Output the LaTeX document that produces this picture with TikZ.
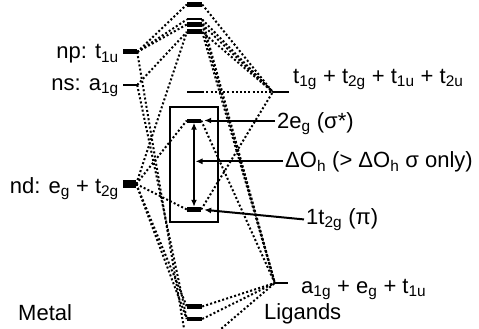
\documentclass[tikz,border=0pt]{standalone}
\usepackage{fontspec}
\setmainfont{Liberation Sans}
\usepackage{tikz}
\usetikzlibrary{arrows.meta,calc}

\begin{document}
\begin{tikzpicture}[
  x=1pt, y=-1pt,
  font=\fontsize{22}{26}\selectfont,
  lvl/.style={fill=black, inner sep=0pt, minimum width=15pt, minimum height=5pt},
  lvlthin/.style={lvl, minimum height=2pt},
  lbl/.style={inner sep=2pt},
  frame/.style={draw, line width=2pt, inner sep=0pt},
  corr/.style={line width=2pt, dash pattern=on 2pt off 2.2pt},
  arr/.style={-{Latex[length=7pt,width=6pt]}, line width=2pt, shorten >=3pt},
  dbl/.style={{Latex[length=7pt,width=6pt]}-{Latex[length=7pt,width=6pt]}, line width=2pt}
]
\useasboundingbox (0,0) rectangle (479,329);
\clip (0,0) rectangle (479,329);
% metal levels
\node[lvl, minimum width=14pt] (np) at (130,52) {};
\node[lvlthin, minimum width=14pt] (ns) at (130,85) {};
\node[lvl, minimum width=13pt, minimum height=8pt] (nd) at (129.5,184) {};
\node[lbl, anchor=base east] (tnp) at (121,59) {np: t\textsubscript{1u}};
\node[lbl, anchor=base east] (tns) at (121,90) {ns: a\textsubscript{1g}};
\node[lbl, anchor=base east] (tnd) at (121,193) {nd: e\textsubscript{g} + t\textsubscript{2g}};
\node[lbl, anchor=base west] (tmet) at (16,320) {Metal};
% complex levels
\node[lvl] (T0) at (194.5,4.5) {};
\node[lvlthin] (T1) at (194.5,19.5) {};
\node[lvl] (T2) at (194.5,24.5) {};
\node[lvl] (T3) at (194.5,32) {};
\node[lvlthin] (N) at (194.5,92) {};
\node[frame, minimum width=48pt, minimum height=115pt] (bx) at (194,164.5) {};
\node[lvl, minimum width=14pt, minimum height=4pt] (E) at (194,120.5) {};
\node[lvl, minimum width=14pt] (P) at (194,209.5) {};
\node[lvl] (B1) at (194.5,306.5) {};
\node[lvl, minimum height=4pt] (B2) at (194.5,319) {};
\node[lvl] (B3) at (194.5,345) {};
% ligand levels
\node[lvlthin, minimum width=16pt] (Lt) at (281,92) {};
\node[lvlthin, minimum width=13pt] (Lb) at (281.5,283) {};
\node[lbl, anchor=base west] (tLt) at (291,83) {t\textsubscript{1g} + t\textsubscript{2g} + t\textsubscript{1u} + t\textsubscript{2u}};
\node[lbl, anchor=base west] (tLb) at (299,293) {a\textsubscript{1g} + e\textsubscript{g} + t\textsubscript{1u}};
\node[lbl, anchor=base west] (tlig) at (262,319) {Ligands};
% splitting labels
\node[lbl, anchor=base west] (t2e) at (275,128) {2e\textsubscript{g} (σ*)};
\node[lbl, anchor=base west] (tdo) at (283,167) {ΔO\textsubscript{h} (> ΔO\textsubscript{h} σ only)};
\node[lbl, anchor=base west] (t1t) at (304,224) {1t\textsubscript{2g} (π)};
\coordinate (dmid) at ($(E.south)!0.5!(P.north)$);
% metal to complex
\draw[corr] (np.east) -- (T0.west);
\draw[corr] (np.east) -- (T1.west);
\draw[corr] (np.east) -- (T2.west);
\draw[corr] (np.east) -- (B3.west);
\draw[corr] (ns.east) -- (T3.west);
\draw[corr] (ns.east) -- (B2.west);
\draw[corr] (nd.east) -- (T3.west);
\draw[corr] (nd.east) -- (E.west);
\draw[corr] (nd.east) -- (P.west);
\draw[corr] (nd.east) -- (B1.west);
\draw[corr] (nd.east) -- (B2.west);
% complex to ligands
\draw[corr] (T0.east) -- (Lt.west);
\draw[corr] (T1.east) -- (Lt.west);
\draw[corr] (T2.east) -- (Lt.west);
\draw[corr] (T3.east) -- (Lt.west);
\draw[corr] (N.east) -- (Lt.west);
\draw[corr] (P.east) -- (Lt.west);
\draw[corr] (T1.east) -- (Lb.west);
\draw[corr] (T2.east) -- (Lb.west);
\draw[corr] (T3.east) -- (Lb.west);
\draw[corr] (E.east) -- (Lb.west);
\draw[corr] (B1.east) -- (Lb.west);
\draw[corr] (B2.east) -- (Lb.west);
\draw[corr] (B3.east) -- (Lb.west);
% arrows
\draw[dbl] (E.south) -- (P.north);
\draw[arr] (E.east -| t2e.west) -- (E.east);
\draw[arr, shorten >=1.5pt] (tdo.west) -- (tdo.west -| dmid);
\draw[arr] (t1t.west) -- (P.east);
\end{tikzpicture}
\end{document}
